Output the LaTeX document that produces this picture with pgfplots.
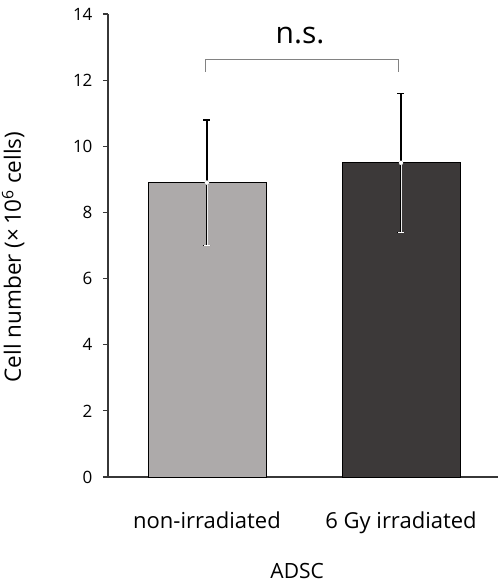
\documentclass[border=0pt]{standalone}
\usepackage{fontspec}
\setmainfont{Open Sans}
\usepackage{pgfplots}
\pgfplotsset{compat=1.18}
\definecolor{lightbar}{RGB}{173,170,170}
\definecolor{darkbar}{RGB}{60,57,57}
\definecolor{axisgray}{RGB}{55,55,55}
\definecolor{brack}{RGB}{130,130,130}

\begin{document}
\begin{tikzpicture}
\begin{axis}[
  scale only axis,
  width=390pt, height=463pt,
  xmin=-0.51, xmax=1.5,
  ymin=0, ymax=14,
  clip=false,
  axis x line=bottom, axis y line=left,
  axis line style={-, draw=axisgray, line width=1.1pt},
  ytick={0,2,...,14},
  xtick={0,1},
  xticklabels={non-irradiated, 6 Gy irradiated},
  x tick style={draw=none},
  y tick style={draw=axisgray, line width=1.1pt},
  tick align=outside,
  major tick length=5pt,
  /pgf/number format/assume math mode=true,
  yticklabel style={font=\fontsize{17}{20}\selectfont, color=black, xshift=-7pt},
  xticklabel style={font=\fontsize{22}{25}\selectfont, anchor=base, yshift=-46pt},
  ylabel={Cell number (×\,10\textsuperscript{6} cells)},
  ylabel style={font=\fontsize{22.5}{26}\selectfont, at={(rel axis cs:0,0.475)}, anchor=south, yshift=80pt},
  xlabel={ADSC},
  xlabel style={font=\fontsize{21}{24}\selectfont, at={(rel axis cs:0.485,0)}, anchor=base, yshift=-101pt},
]
\coordinate (o) at (rel axis cs:0,0);
\addplot[ybar, bar width=0.608, bar shift=0pt, fill=lightbar, draw=black, line width=0.8pt]
  coordinates {(0,8.9)};
\addplot[ybar, bar width=0.608, bar shift=0pt, fill=darkbar, draw=black, line width=0.8pt]
  coordinates {(1,9.5)};
% error bars: black pass, then a light core below the bar top
\addplot[only marks, mark=none, black, forget plot,
  error bars/.cd, y dir=both, y explicit, error mark=|,
  error bar style={draw=black, line width=2pt},
  error mark options={draw=black, line width=1.4pt, mark size=3.5pt}]
  coordinates {(0,8.9) +- (0,1.9) (1,9.5) +- (0,2.1)};
\addplot[only marks, mark=none, white, forget plot,
  error bars/.cd, y dir=minus, y explicit, error mark=|,
  error bar style={draw=white!85!gray, line width=0.9pt},
  error mark options={draw=white, line width=0.5pt, mark size=2.6pt}]
  coordinates {(0,8.9) +- (0,1.9) (1,9.5) +- (0,2.1)};
\draw[brack, line width=1pt] (axis cs:-0.01,12.25) -- (axis cs:-0.01,12.61)
  -- (axis cs:0.985,12.61) -- (axis cs:0.985,12.25);
\node[font=\fontsize{30}{34}\selectfont] at (axis cs:0.48,13.34) {n.s.};
\end{axis}
\pgfresetboundingbox
\path (o) ++(-108pt,-109pt) rectangle ++(498pt,586pt);
\end{tikzpicture}
\end{document}
